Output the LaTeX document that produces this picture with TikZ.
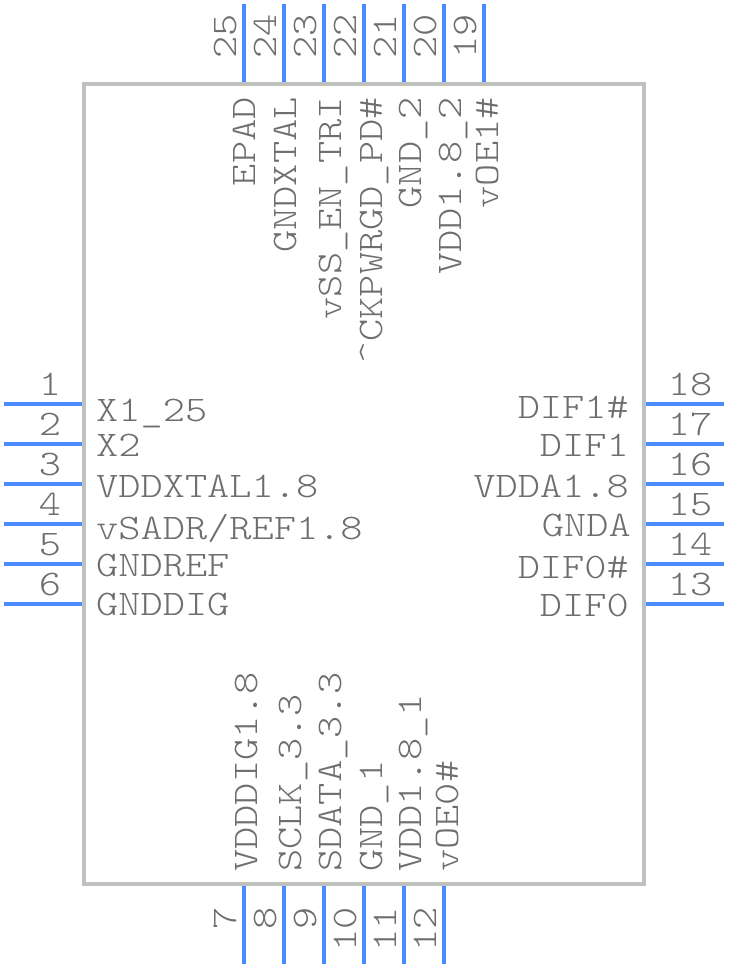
\documentclass[tikz,border=0pt]{standalone}
\usepackage{fontspec}
\setmonofont[FakeStretch=1.175]{Latin Modern Mono Light}
\definecolor{pinblue}{HTML}{4A8CFF}
\definecolor{bodygray}{HTML}{C0C0C0}
\definecolor{labelgray}{HTML}{6E6E6E}
\tikzset{
	pin/.style={line width=4pt, pinblue},
	chipbody/.style={draw=bodygray, line width=4pt, rectangle, inner sep=0pt, minimum width=560pt, minimum height=800pt},
	% all texts of the footprint
	label/.style={inner sep=0pt, text=labelgray, font=\fontsize{36}{36}\selectfont\ttfamily},
	num/.style={label, anchor=base},
	numup/.style={label, rotate=90, anchor=base east},
	padw/.style={label, anchor=base west},
	pade/.style={label, anchor=base east},
	padup/.style={label, rotate=90, anchor=base east},
	paddown/.style={label, rotate=90, anchor=base west},
}
\begin{document}
\begin{tikzpicture}[x=1pt, y=-1pt]
	\useasboundingbox (0,0) rectangle (728,968);
	
	% pins first, the body lies over their inner ends
	\foreach \n/\y in {1/404, 2/444, 3/484, 4/524, 5/564, 6/604} {
		\coordinate (a\n) at (4,\y);
		\coordinate (b\n) at (84,\y);
		\draw[pin] (a\n) -- (b\n);
		\node (n\n) [num] at (50,\y-9) {\n};
	}
	\foreach \n/\y in {18/404, 17/444, 16/484, 15/524, 14/564, 13/604} {
		\coordinate (a\n) at (724,\y);
		\coordinate (b\n) at (644,\y);
		\draw[pin] (a\n) -- (b\n);
		\node (n\n) [num] at (690,\y-9) {\n};
	}
	\foreach \n/\x in {25/244, 24/284, 23/324, 22/364, 21/404, 20/444, 19/484} {
		\coordinate (a\n) at (\x,4);
		\coordinate (b\n) at (\x,84);
		\draw[pin] (a\n) -- (b\n);
		\node (n\n) [numup] at (\x-8,14) {\n};
	}
	\foreach \n/\x in {7/244, 8/284, 9/324, 10/364, 11/404, 12/444} {
		\coordinate (a\n) at (\x,964);
		\coordinate (b\n) at (\x,884);
		\draw[pin] (a\n) -- (b\n);
		\node (n\n) [numup] at (\x-8,907) {\n};
	}
	
	\node (chip) [chipbody] at (364,484) {};
	
	\node (x1) [padw] at (96,421) {X1\_25};
	\node (x2) [padw] at (96,456) {X2};
	\node (vddxtal) [padw] at (96,497) {VDDXTAL1.8};
	\node (vsadr) [padw] at (96,539) {vSADR/REF1.8};
	\node (gndref) [padw] at (96,576) {GNDREF};
	\node (gnddig) [padw] at (96,615) {GNDDIG};
	
	\node (dif1n) [pade] at (629,418) {DIF1\#};
	\node (dif1) [pade] at (629,456) {DIF1};
	\node (vdda) [pade] at (629,497) {VDDA1.8};
	\node (gnda) [pade] at (631,536) {GNDA};
	\node (dif0n) [pade] at (629,578) {DIF0\#};
	\node (dif0) [pade] at (629,616) {DIF0};
	
	\node (epad) [padup] at (255,97) {EPAD};
	\node (gndxtal) [padup] at (296,97) {GNDXTAL};
	\node (vss) [padup] at (341,97) {vSS\_EN\_TRI};
	\node (ckpwrgd) [padup] at (382,97) {\textasciicircum CKPWRGD\_PD\#};
	\node (gnd2) [padup] at (421,97) {GND\_2};
	\node (vdd2) [padup] at (461,97) {VDD1.8\_2};
	\node (voe1) [padup] at (498,97) {vOE1\#};
	
	\node (vdddig) [paddown] at (257,872) {VDDDIG1.8};
	\node (sclk) [paddown] at (301,872) {SCLK\_3.3};
	\node (sdata) [paddown] at (341,872) {SDATA\_3.3};
	\node (gnd1) [paddown] at (382,872) {GND\_1};
	\node (vdd1) [paddown] at (421,872) {VDD1.8\_1};
	\node (voe0) [paddown] at (458,872) {vOE0\#};
\end{tikzpicture}
\end{document}
